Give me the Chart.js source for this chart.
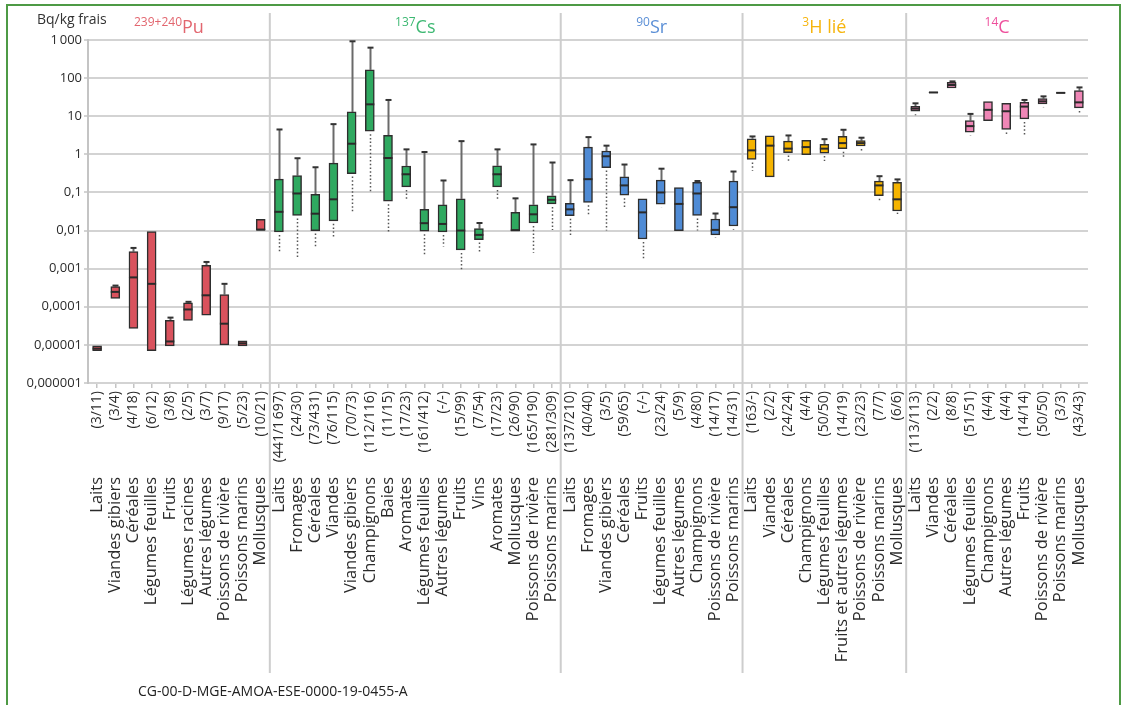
<!DOCTYPE html>
<html lang="fr">
<head>
<meta charset="utf-8">
<title>Activités dans les denrées – Bq/kg frais</title>
<script src="https://cdn.jsdelivr.net/npm/chart.js@4/dist/chart.umd.min.js"></script>
<style>
  html, body { margin: 0; padding: 0; background: #fff; }
  #wrap { position: relative; width: 1128px; height: 705px; overflow: hidden; font-family: "Open Sans", sans-serif; }
  #frame { position: absolute; left: 6px; top: 4px; width: 1115px; height: 760px; border: 2px solid #4e9a45; box-sizing: border-box; pointer-events: none; }
  #unit { position: absolute; left: 37px; top: 9px; font-size: 14px; color: #333; }
  #ref { position: absolute; left: 138px; top: 681px; font-size: 14px; color: #222; }
  canvas { position: absolute; left: 0; top: 0; }
</style>
</head>
<body>
<div id="wrap">
  <canvas id="chart" width="1128" height="705"></canvas>
  <div id="unit">Bq/kg frais</div>
  <div id="ref">CG-00-D-MGE-AMOA-ESE-0000-19-0455-A</div>
  <div id="frame"></div>
</div>
<script>
// Radionuclide groups, in drawing order
const isoMass   = ['239+240', '137', '90', '3', '14'];
const isoSymbol = ['Pu', 'Cs', 'Sr', 'H lié', 'C'];
const groupSizes = [10, 16, 10, 9, 10];

// Foodstuff categories (one per box)
const names = [
  // Pu
  'Laits', 'Viandes gibiers', 'Céréales', 'Légumes feuilles', 'Fruits', 'Légumes racines',
  'Autres légumes', 'Poissons de rivière', 'Poissons marins', 'Mollusques',
  // Cs
  'Laits', 'Fromages', 'Céréales', 'Viandes', 'Viandes gibiers', 'Champignons', 'Baies', 'Aromates',
  'Légumes feuilles', 'Autres légumes', 'Fruits', 'Vins', 'Aromates', 'Mollusques',
  'Poissons de rivière', 'Poissons marins',
  // Sr
  'Laits', 'Fromages', 'Viandes gibiers', 'Céréales', 'Fruits', 'Légumes feuilles',
  'Autres légumes', 'Champignons', 'Poissons de rivière', 'Poissons marins',
  // 3H
  'Laits', 'Viandes', 'Céréales', 'Champignons', 'Légumes feuilles', 'Fruits et autres légumes',
  'Poissons de rivière', 'Poissons marins', 'Mollusques',
  // 14C
  'Laits', 'Viandes', 'Céréales', 'Légumes feuilles', 'Champignons', 'Autres légumes', 'Fruits',
  'Poissons de rivière', 'Poissons marins', 'Mollusques'
];

// Sample counts shown under each box
const counts = [
  '(3/11)', '(3/4)', '(4/18)', '(6/12)', '(3/8)', '(2/5)', '(3/7)', '(9/17)', '(5/23)', '(10/21)',
  '(441/1\u202f697)', '(24/30)', '(73/431)', '(76/115)', '(70/73)', '(112/116)', '(11/15)', '(17/23)',
  '(161/412)', '(-/-)', '(15/99)', '(7/54)', '(17/23)', '(26/90)', '(165/190)', '(281/309)',
  '(137/210)', '(40/40)', '(3/5)', '(59/65)', '(-/-)', '(23/24)', '(5/9)', '(4/80)', '(14/17)', '(14/31)',
  '(163/-)', '(2/2)', '(24/24)', '(4/4)', '(50/50)', '(14/19)', '(23/23)', '(7/7)', '(6/6)',
  '(113/113)', '(2/2)', '(8/8)', '(51/51)', '(4/4)', '(4/4)', '(14/14)', '(50/50)', '(3/3)', '(43/43)'
];

// Box statistics, Bq/kg frais
const q1 = [
  7e-6, 1.66e-4, 2.7e-5, 7e-6, 9.4e-6, 4.4e-5, 6e-5, 1e-5, 9.4e-6, 0.0104,
  0.0092, 0.025, 0.01, 0.018, 0.313, 4.05, 0.059, 0.14, 0.0096, 0.0092, 0.0031, 0.0058, 0.14, 0.01, 0.0158, 0.05,
  0.0246, 0.055, 0.45, 0.085, 0.006, 0.0496, 0.01, 0.025, 0.0077, 0.0132,
  0.73, 0.256, 1.11, 0.98, 1.08, 1.41, 1.65, 0.082, 0.0326,
  13.5, 41.3, 55, 3.8, 7.7, 4.5, 8.5, 21, 40.3, 16.5
];
const median = [
  8e-6, 2.46e-4, 5.9e-4, 4e-4, 1.23e-5, 8.5e-5, 2e-4, 3.6e-5, 1.1e-5, 0.0105,
  0.031, 0.094, 0.0277, 0.066, 1.9, 20.5, 0.8, 0.3, 0.0156, 0.0149, 0.01, 0.0077, 0.3, 0.0102, 0.0267, 0.064,
  0.036, 0.223, 0.89, 0.153, 0.03, 0.1, 0.05, 0.094, 0.0104, 0.041,
  1.27, 1.69, 1.41, 1.55, 1.41, 1.97, 1.97, 0.153, 0.066,
  15.8, 42, 66, 5.5, 14.7, 13.5, 17.9, 24.6, 41, 23.1
];
const q3 = [
  9.5e-6, 3.4e-4, 2.8e-3, 0.0094, 4.4e-5, 1.27e-4, 1.22e-3, 2.1e-4, 1.27e-5, 0.0198,
  0.223, 0.277, 0.089, 0.59, 13, 165, 3.13, 0.495, 0.036, 0.047, 0.068, 0.0112, 0.5, 0.03, 0.0475, 0.082,
  0.052, 1.55, 1.22, 0.256, 0.068, 0.21, 0.135, 0.183, 0.0201, 0.2,
  2.57, 3.07, 2.22, 2.32, 1.82, 2.95, 2.28, 0.198, 0.183,
  18.2, 42.7, 77, 7.7, 24.1, 21.8, 23.1, 28.9, 41.7, 46.8
];
const maxValue = [
  null, 3.6e-4, 3.5e-3, null, 5.2e-5, 1.35e-4, 1.5e-3, 4e-4, null, null,
  4.49, 0.79, 0.458, 6.2, 925, 630, 26.7, 1.35, 1.15, 0.206, 2.22, 0.0158, 1.35, 0.07, 1.82, 0.61,
  0.21, 2.83, 1.69, 0.54, null, 0.42, null, 0.2, 0.028, 0.354,
  2.95, null, 3.13, null, 2.5, 4.41, 2.73, 0.267, 0.22,
  21.8, null, 82, 11.5, null, null, 26.7, 33.2, null, 57
];
const minValue = [
  null, null, null, null, null, null, null, null, null, null,
  0.0028, 0.0019, 0.0037, 0.007, 0.0295, 0.1, 0.0085, 0.06, 0.0021, 0.0038, 0.00094, 0.00266, 0.063, null, 0.0026, 0.0104,
  0.0077, 0.024, 0.01, 0.037, 0.0017, 0.041, null, 0.01, 0.0066, 0.0105,
  0.37, null, 0.63, null, 0.67, 0.85, 1.15, 0.057, 0.0295,
  10.6, null, null, 3.1, null, 3.1, 3.1, 17.1, null, 11
];

// Logarithmic axis ticks
const yTickValues = [1e-6, 1e-5, 1e-4, 1e-3, 1e-2, 1e-1, 1, 10, 100, 1000];
const yTickLabels = ['0,000001', '0,00001', '0,0001', '0,001', '0,01', '0,1', '1', '10', '100', '1\u202f000'];

// Styling
const groupFill  = ['#d9525d', '#2fa960', '#4f8bd5', '#f5b400', '#ef86b6'];
const groupTitle = ['#e2666f', '#3db872', '#5b8fd6', '#f6b50d', '#ee4f9c'];
const FONT = '"Open Sans", sans-serif';

const groupOf = [];
groupSizes.forEach((n, g) => { for (let k = 0; k < n; k++) groupOf.push(g); });

// Whiskers, caps and medians drawn over the floating-bar boxes
const boxParts = {
  id: 'boxParts',
  beforeDatasetsDraw(chart) {
    const { ctx, scales: { x, y } } = chart;
    ctx.save();
    names.forEach((_, i) => {
      const cx = Math.round(x.getPixelForValue(i)) + 0.5;
      if (maxValue[i] != null) {
        const top = y.getPixelForValue(maxValue[i]);
        ctx.strokeStyle = '#6a6a6a';
        ctx.lineWidth = 2;
        ctx.setLineDash([]);
        ctx.beginPath();
        ctx.moveTo(cx, y.getPixelForValue(q3[i]));
        ctx.lineTo(cx, top);
        ctx.stroke();
        ctx.strokeStyle = '#333';
        ctx.lineWidth = 2;
        ctx.beginPath();
        ctx.moveTo(cx - 3, top);
        ctx.lineTo(cx + 3, top);
        ctx.stroke();
      }
      if (minValue[i] != null) {
        ctx.strokeStyle = '#555';
        ctx.lineWidth = 1.5;
        ctx.setLineDash([1.5, 2.2]);
        ctx.beginPath();
        ctx.moveTo(cx, y.getPixelForValue(q1[i]) + 3);
        ctx.lineTo(cx, y.getPixelForValue(minValue[i]));
        ctx.stroke();
      }
    });
    ctx.restore();
  },
  afterDatasetsDraw(chart) {
    const { ctx, scales: { x, y } } = chart;
    ctx.save();
    ctx.strokeStyle = '#2a2a2a';
    ctx.lineWidth = 2;
    names.forEach((_, i) => {
      if (median[i] == null) return;
      const cx = x.getPixelForValue(i);
      const my = y.getPixelForValue(median[i]);
      ctx.beginPath();
      ctx.moveTo(cx - 4.5, my);
      ctx.lineTo(cx + 4.5, my);
      ctx.stroke();
    });
    ctx.restore();
  }
};

// Group separators and radionuclide headings
const groupFrame = {
  id: 'groupFrame',
  afterDraw(chart) {
    const { ctx, scales: { x } } = chart;
    ctx.save();
    let start = 0;
    groupSizes.forEach((n, g) => {
      const end = start + n - 1;
      const left = start === 0 ? chart.chartArea.left : (x.getPixelForValue(start - 1) + x.getPixelForValue(start)) / 2;
      const right = g === groupSizes.length - 1 ? chart.chartArea.right : (x.getPixelForValue(end) + x.getPixelForValue(end + 1)) / 2;
      if (g > 0) {
        ctx.strokeStyle = '#cdcdcd';
        ctx.lineWidth = 2;
        ctx.beginPath();
        ctx.moveTo(left, 13);
        ctx.lineTo(left, 673);
        ctx.stroke();
      }
      // heading: superscript mass number + symbol
      const center = (left + right) / 2 + (g === 0 ? -10 : 0);
      ctx.font = '12px ' + FONT;
      const wSup = ctx.measureText(isoMass[g]).width;
      ctx.font = '18px ' + FONT;
      const wSym = ctx.measureText(isoSymbol[g]).width;
      const x0 = center - (wSup + wSym) / 2;
      ctx.fillStyle = groupTitle[g];
      ctx.textAlign = 'left';
      ctx.textBaseline = 'alphabetic';
      ctx.font = '12px ' + FONT;
      ctx.fillText(isoMass[g], x0, 26);
      ctx.font = '18px ' + FONT;
      ctx.fillText(isoSymbol[g], x0 + wSup, 33);
      start += n;
    });
    ctx.restore();
  }
};

new Chart(document.getElementById('chart'), {
  type: 'bar',
  data: {
    labels: names,
    datasets: [{
      data: q1.map((v, i) => [v, q3[i]]),
      backgroundColor: groupOf.map(g => groupFill[g]),
      borderColor: '#2e2e2e',
      borderWidth: 1.5,
      borderSkipped: false,
      barThickness: 9
    }]
  },
  options: {
    responsive: false,
    animation: false,
    layout: { padding: { left: 0, top: 40, right: 40, bottom: 0 } },
    plugins: { legend: { display: false }, tooltip: { enabled: false } },
    scales: {
      x: {
        type: 'category',
        labels: counts,
        offset: true,
        weight: 0,
        border: { display: false },
        grid: { offset: false, drawOnChartArea: false, drawTicks: true, tickLength: 5, color: '#c4c4c4', lineWidth: 1.5 },
        ticks: {
          autoSkip: false, minRotation: 90, maxRotation: 90, padding: 3,
          color: '#2b2b2b', font: { family: FONT, size: 14 }
        },
        afterFit(scale) { scale.height = 94; }
      },
      xn: {
        type: 'category',
        position: 'bottom',
        labels: names,
        offset: true,
        weight: 1,
        border: { display: false },
        grid: { display: false, drawTicks: false },
        ticks: {
          autoSkip: false, minRotation: 90, maxRotation: 90, padding: 0,
          color: '#2b2b2b', font: { family: FONT, size: 16.5 }
        },
        afterFit(scale) { scale.height = 228; }
      },
      y: {
        type: 'logarithmic',
        min: 1e-6,
        max: 1000,
        border: { display: true, color: '#c4c4c4', width: 2 },
        grid: { color: '#d3d3d3', lineWidth: 2, tickLength: 4 },
        afterBuildTicks(scale) { scale.ticks = yTickValues.map(v => ({ value: v })); },
        ticks: {
          padding: 2,
          color: '#2b2b2b',
          font: { family: FONT, size: 13 },
          callback: (value, index) => yTickLabels[index]
        },
        afterFit(scale) { scale.width = 88; }
      }
    }
  },
  plugins: [boxParts, groupFrame]
});
</script>
</body>
</html>
